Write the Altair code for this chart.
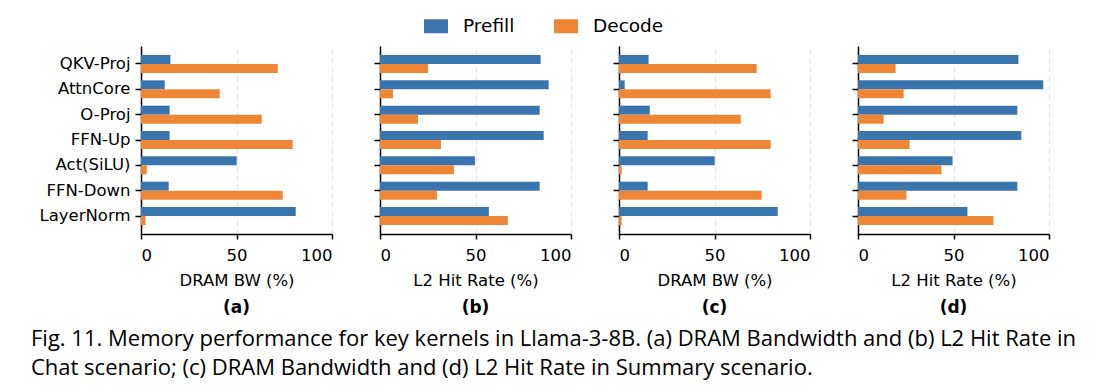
import altair as alt
import pandas as pd

kernels = ["QKV-Proj", "AttnCore", "O-Proj", "FFN-Up", "Act(SiLU)", "FFN-Down", "LayerNorm"]
phases = ["Prefill", "Decode"]

a_prefill = [15.4, 12.4, 15.0, 15.0, 50.1, 14.5, 81.0]
a_decode = [71.6, 41.2, 63.2, 79.4, 3.0, 74.2, 2.4]
b_prefill = [84.1, 88.3, 83.6, 85.7, 49.7, 83.6, 57.0]
b_decode = [25.1, 6.8, 19.9, 31.9, 38.7, 29.8, 66.9]
c_prefill = [15.5, 3.0, 16.1, 15.0, 50.1, 15.0, 83.1]
c_decode = [72.1, 79.4, 63.7, 79.4, 1.4, 74.7, 1.4]
d_prefill = [84.0, 97.0, 83.4, 85.5, 49.5, 83.4, 57.3]
d_decode = [19.7, 23.9, 13.4, 27.0, 43.7, 25.4, 70.9]

panel_ids = ["(a)", "(b)", "(c)", "(d)"]
panel_xtitles = ["DRAM BW (%)", "L2 Hit Rate (%)", "DRAM BW (%)", "L2 Hit Rate (%)"]
panel_series = [(a_prefill, a_decode), (b_prefill, b_decode), (c_prefill, c_decode), (d_prefill, d_decode)]

caption = [
    "Fig. 11.  Memory performance for key kernels in Llama-3-8B. (a) DRAM Bandwidth and (b) L2 Hit Rate in",
    "Chat scenario; (c) DRAM Bandwidth and (d) L2 Hit Rate in Summary scenario.",
]

rows = []
for pid, (pre, dec) in zip(panel_ids, panel_series):
    for k, p, d in zip(kernels, pre, dec):
        rows.append({"panel": pid, "kernel": k, "phase": "Prefill", "value": p})
        rows.append({"panel": pid, "kernel": k, "phase": "Decode", "value": d})
df = pd.DataFrame(rows)

BLUE = "#3a75ae"
ORANGE = "#ef8636"
FONT = "DejaVu Sans"

def panel(i):
    pid = panel_ids[i]
    return (
        alt.Chart(df)
        .transform_filter(alt.datum.panel == pid)
        .mark_bar()
        .encode(
            y=alt.Y(
                "kernel:N",
                sort=kernels,
                scale=alt.Scale(paddingInner=0.29, paddingOuter=0.355),
                axis=alt.Axis(
                    title=None,
                    labels=(i == 0),
                    labelFontSize=16.5,
                    labelFont=FONT,
                    labelColor="black",
                    labelPadding=5,
                    tickSize=6,
                    tickWidth=1.5,
                    tickColor="black",
                    domainColor="black",
                    domainWidth=1.5,
                    grid=False,
                ),
            ),
            yOffset=alt.YOffset("phase:N", sort=phases, scale=alt.Scale(paddingInner=0, paddingOuter=0)),
            x=alt.X(
                "value:Q",
                scale=alt.Scale(domain=[0, 100], nice=False),
                axis=alt.Axis(
                    values=[0, 50, 100],
                    title=panel_xtitles[i],
                    titleFont=FONT,
                    titleFontSize=16.5,
                    titleFontWeight="normal",
                    titleColor="black",
                    titlePadding=9,
                    labelFont=FONT,
                    labelFontSize=16.5,
                    labelColor="black",
                    labelPadding=8,
                    tickSize=5,
                    tickWidth=1.5,
                    tickColor="black",
                    domainColor="black",
                    domainWidth=1.5,
                    grid=True,
                    gridDash=[5, 4],
                    gridColor="#e3e3e3",
                    gridWidth=1,
                ),
            ),
            color=alt.Color(
                "phase:N",
                sort=phases,
                scale=alt.Scale(domain=phases, range=[BLUE, ORANGE]),
                legend=alt.Legend(
                    title=None,
                    orient="none",
                    direction="horizontal",
                    legendX=283,
                    legendY=-32,
                    labelFont=FONT,
                    labelFontSize=18.5,
                    labelColor="black",
                    symbolType="M-1,-0.58H1V0.58H-1Z",
                    symbolSize=576,
                    symbolStrokeWidth=0,
                    symbolOpacity=1,
                    labelOffset=15,
                    columnPadding=39,
                ),
            ),
        )
        .properties(
            width=191,
            height=188,
            title=alt.TitleParams(
                pid,
                orient="bottom",
                font=FONT,
                fontSize=17,
                fontWeight="bold",
                color="black",
                offset=11,
            ),
        )
    )

chart = (
    alt.hconcat(*[panel(i) for i in range(4)], spacing=48, bounds="flush")
    .properties(
        title=alt.TitleParams(
            caption,
            orient="bottom",
            anchor="start",
            font="Open Sans",
            fontSize=22,
            fontWeight="normal",
            color="black",
            lineHeight=29,
            offset=13,
            dx=-8,
        ),
        padding={"left": 22, "right": 5, "top": 6, "bottom": 5},
    )
    .configure_view(stroke=None)
    .configure_title(anchor="middle")
)

chart.save("out.html", embed_options={"renderer": "svg", "actions": False})
